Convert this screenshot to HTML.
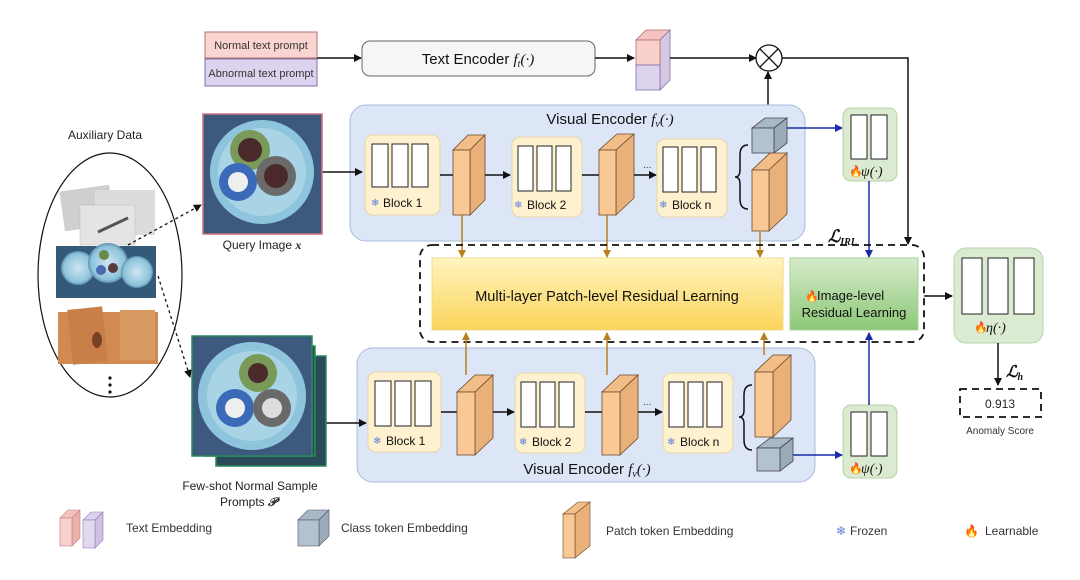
<!DOCTYPE html>
<html><head><meta charset="utf-8"><style>
html,body{margin:0;padding:0;background:#fff;}
svg{display:block;font-family:"Liberation Sans",sans-serif;}
.m{font-family:"Liberation Serif",serif;font-style:italic;}
</style></head><body>
<svg width="1080" height="580" viewBox="0 0 1080 580" xmlns="http://www.w3.org/2000/svg">
<defs>
<marker id="ab" markerWidth="8" markerHeight="8" refX="7" refY="4" orient="auto" markerUnits="userSpaceOnUse"><path d="M0,0 L8,4 L0,8 z" fill="#111"/></marker>
<marker id="abl" markerWidth="8" markerHeight="8" refX="7" refY="4" orient="auto" markerUnits="userSpaceOnUse"><path d="M0,0 L8,4 L0,8 z" fill="#1a2aa8"/></marker>
<marker id="ao" markerWidth="8" markerHeight="8" refX="7" refY="4" orient="auto" markerUnits="userSpaceOnUse"><path d="M0,0 L8,4 L0,8 z" fill="#b8801e"/></marker>
<linearGradient id="gy" x1="0" y1="0" x2="0" y2="1"><stop offset="0" stop-color="#fff4c0"/><stop offset="1" stop-color="#fbd45a"/></linearGradient>
<linearGradient id="gg" x1="0" y1="0" x2="0" y2="1"><stop offset="0" stop-color="#d6ebcb"/><stop offset="1" stop-color="#8cc877"/></linearGradient>
<radialGradient id="cab" cx="0.5" cy="0.5" r="0.6"><stop offset="0" stop-color="#cfe6f0"/><stop offset="0.7" stop-color="#8cc3dc"/><stop offset="1" stop-color="#2b4a6a"/></radialGradient>
</defs>

<!-- text prompts -->
<rect x="205" y="32" width="112" height="26" fill="#f9d4d0" stroke="#b07070"/>
<text x="261" y="49" font-size="11" text-anchor="middle" fill="#333">Normal text prompt</text>
<rect x="205" y="59" width="112" height="27" fill="#ddd3ee" stroke="#8070a8"/>
<text x="261" y="77" font-size="11" text-anchor="middle" fill="#333">Abnormal text prompt</text>
<line x1="317" y1="58" x2="361" y2="58" stroke="#111" stroke-width="1.5" marker-end="url(#ab)"/>
<rect x="362" y="41" width="233" height="35" rx="8" fill="#f6f6f6" stroke="#666"/>
<text x="478" y="64" font-size="15" text-anchor="middle" fill="#111">Text Encoder <tspan class="m">f<tspan font-size="10" dy="3">t</tspan><tspan dy="-3">(·)</tspan></tspan></text>
<line x1="595" y1="58" x2="634" y2="58" stroke="#111" stroke-width="1.5" marker-end="url(#ab)"/>
<!-- text embedding cube -->
<polygon points="636,40 646,30 670,30 660,40" fill="#f4c3c0" stroke="#b07070" stroke-width="0.8"/>
<polygon points="660,40 670,30 670,80 660,90" fill="#d8c8e4" stroke="#8070a8" stroke-width="0.8"/>
<rect x="636" y="40" width="24" height="25" fill="#f9d0cc" stroke="#b07070" stroke-width="0.8"/>
<rect x="636" y="65" width="24" height="25" fill="#ddd3ee" stroke="#8070a8" stroke-width="0.8"/>
<line x1="670" y1="58" x2="756" y2="58" stroke="#111" stroke-width="1.5" marker-end="url(#ab)"/>
<circle cx="769" cy="58" r="13" fill="#fff" stroke="#111" stroke-width="1.3"/>
<line x1="760" y1="49" x2="778" y2="67" stroke="#111" stroke-width="1.3"/><line x1="778" y1="49" x2="760" y2="67" stroke="#111" stroke-width="1.3"/>
<polyline points="782,58 908,58 908,244" fill="none" stroke="#111" stroke-width="1.5" marker-end="url(#ab)"/>
<line x1="768" y1="117" x2="768" y2="72" stroke="#111" stroke-width="1.5" marker-end="url(#ab)"/>

<!-- top visual encoder -->
<rect x="350" y="105" width="455" height="136" rx="16" fill="#dce6f7" stroke="#a8bbd8"/>
<text x="610" y="124" font-size="15" text-anchor="middle" fill="#111">Visual Encoder <tspan class="m">f<tspan font-size="10" dy="3">v</tspan><tspan dy="-3">(·)</tspan></tspan></text>
<line x1="322" y1="172" x2="362" y2="172" stroke="#111" stroke-width="1.5" marker-end="url(#ab)"/>
<g id="blk1">
<rect x="365" y="135" width="75" height="80" rx="8" fill="#fdf1cf" stroke="#e6d6a8"/>
<rect x="372" y="144" width="16" height="43" fill="#fff" stroke="#222"/><rect x="392" y="144" width="16" height="43" fill="#fff" stroke="#222"/><rect x="412" y="144" width="16" height="43" fill="#fff" stroke="#222"/>
<text x="371" y="206" font-size="10" fill="#5b7fd6">❄</text><text x="383" y="207" font-size="12" fill="#111">Block 1</text>
</g>
<line x1="440" y1="175" x2="453" y2="175" stroke="#111" stroke-width="1.5"/>
<polygon points="453,150 470,150 485,135 468,135" fill="#f3bd87" stroke="#6a4a2a" stroke-width="0.8"/>
<polygon points="470,150 485,135 485,200 470,215" fill="#eab07a" stroke="#6a4a2a" stroke-width="0.8"/>
<rect x="453" y="150" width="17" height="65" fill="#f9c894" stroke="#6a4a2a" stroke-width="0.8"/>
<line x1="485" y1="175" x2="510" y2="175" stroke="#111" stroke-width="1.5" marker-end="url(#ab)"/>
<rect x="512" y="137" width="70" height="80" rx="8" fill="#fdf1cf" stroke="#e6d6a8"/>
<rect x="518" y="146" width="15" height="45" fill="#fff" stroke="#222"/><rect x="537" y="146" width="15" height="45" fill="#fff" stroke="#222"/><rect x="556" y="146" width="15" height="45" fill="#fff" stroke="#222"/>
<text x="514" y="208" font-size="10" fill="#5b7fd6">❄</text><text x="527" y="209" font-size="12" fill="#111">Block 2</text>
<line x1="582" y1="175" x2="599" y2="175" stroke="#111" stroke-width="1.5"/>
<polygon points="599,150 616,150 634,134 617,134" fill="#f3bd87" stroke="#6a4a2a" stroke-width="0.8"/>
<polygon points="616,150 634,134 634,198 616,215" fill="#eab07a" stroke="#6a4a2a" stroke-width="0.8"/>
<rect x="599" y="150" width="17" height="65" fill="#f9c894" stroke="#6a4a2a" stroke-width="0.8"/>
<text x="643" y="168" font-size="10" fill="#333">...</text>
<line x1="634" y1="175" x2="656" y2="175" stroke="#111" stroke-width="1.5" marker-end="url(#ab)"/>
<rect x="657" y="139" width="70" height="78" rx="8" fill="#fdf1cf" stroke="#e6d6a8"/>
<rect x="663" y="147" width="15" height="45" fill="#fff" stroke="#222"/><rect x="682" y="147" width="15" height="45" fill="#fff" stroke="#222"/><rect x="701" y="147" width="15" height="45" fill="#fff" stroke="#222"/>
<text x="659" y="208" font-size="10" fill="#5b7fd6">❄</text><text x="672" y="209" font-size="12" fill="#111">Block n</text>
<path d="M748,145 Q740,145 740,155 L740,170 Q740,177 735,177 Q740,177 740,184 L740,199 Q740,209 748,209" fill="none" stroke="#111" stroke-width="1.5"/>
<!-- gray cube top -->
<polygon points="752,128 774,128 787,118 765,118" fill="#a8b8c6" stroke="#445" stroke-width="0.8"/>
<polygon points="774,128 787,118 787,143 774,153" fill="#9aabba" stroke="#445" stroke-width="0.8"/>
<rect x="752" y="128" width="22" height="25" fill="#b2c2cf" stroke="#445" stroke-width="0.8"/>
<line x1="787" y1="128" x2="842" y2="128" stroke="#1a2aa8" stroke-width="1.5" marker-end="url(#abl)"/>
<polygon points="752,170 769,170 787,153 770,153" fill="#f3bd87" stroke="#6a4a2a" stroke-width="0.8"/>
<polygon points="769,170 787,153 787,214 769,231" fill="#eab07a" stroke="#6a4a2a" stroke-width="0.8"/>
<rect x="752" y="170" width="17" height="61" fill="#f9c894" stroke="#6a4a2a" stroke-width="0.8"/>
<line x1="462" y1="215" x2="462" y2="257" stroke="#b8801e" stroke-width="1.5" marker-end="url(#ao)"/>
<line x1="607" y1="215" x2="607" y2="257" stroke="#b8801e" stroke-width="1.5" marker-end="url(#ao)"/>
<line x1="760" y1="231" x2="760" y2="257" stroke="#b8801e" stroke-width="1.5" marker-end="url(#ao)"/>

<!-- psi top -->
<rect x="843" y="108" width="54" height="73" rx="8" fill="#dbebd2" stroke="#b5d2a8"/>
<rect x="851" y="115" width="16" height="44" fill="#fff" stroke="#222"/><rect x="871" y="115" width="16" height="44" fill="#fff" stroke="#222"/>
<text x="849" y="175" font-size="11" fill="#e02020">🔥</text><text x="861" y="176" font-size="14" class="m" fill="#111">ψ(·)</text>
<line x1="869" y1="181" x2="869" y2="257" stroke="#1a2aa8" stroke-width="1.5" marker-end="url(#abl)"/>
<text x="828" y="242" font-size="17" class="m" fill="#111" font-weight="bold">ℒ<tspan font-size="10" dy="3">IRL</tspan></text>

<!-- dashed region -->
<rect x="420" y="245" width="504" height="97" rx="12" fill="none" stroke="#111" stroke-width="1.8" stroke-dasharray="7,5"/>
<rect x="432" y="258" width="351" height="72" fill="url(#gy)" stroke="#f0d88a"/>
<text x="607" y="301" font-size="14.5" text-anchor="middle" fill="#111">Multi-layer Patch-level Residual Learning</text>
<rect x="790" y="258" width="128" height="72" fill="url(#gg)" stroke="#a8d098"/>
<text x="805" y="300" font-size="11" fill="#e02020">🔥</text>
<text x="817" y="300" font-size="13" fill="#111">Image-level</text>
<text x="854" y="306" font-size="13" text-anchor="middle" fill="#111" dy="11">Residual Learning</text>
<line x1="924" y1="296" x2="952" y2="296" stroke="#111" stroke-width="1.5" marker-end="url(#ab)"/>

<!-- eta -->
<rect x="954" y="248" width="89" height="95" rx="12" fill="#dbebd2" stroke="#b5d2a8"/>
<rect x="962" y="258" width="20" height="56" fill="#fff" stroke="#222"/><rect x="988" y="258" width="20" height="56" fill="#fff" stroke="#222"/><rect x="1014" y="258" width="20" height="56" fill="#fff" stroke="#222"/>
<text x="974" y="331" font-size="11" fill="#e02020">🔥</text><text x="986" y="332" font-size="14" class="m" fill="#111">η(·)</text>
<line x1="998" y1="343" x2="998" y2="385" stroke="#111" stroke-width="1.5" marker-end="url(#ab)"/>
<text x="1006" y="377" font-size="16" class="m" font-weight="bold" fill="#111">ℒ<tspan font-size="10" dy="3">h</tspan></text>
<rect x="960" y="389" width="81" height="28" fill="none" stroke="#111" stroke-width="1.8" stroke-dasharray="7,5"/>
<text x="1000" y="408" font-size="12" text-anchor="middle" fill="#222">0.913</text>
<text x="1000" y="434" font-size="10" text-anchor="middle" fill="#333">Anomaly Score</text>

<!-- bottom visual encoder -->
<rect x="357" y="348" width="458" height="134" rx="16" fill="#dce6f7" stroke="#a8bbd8"/>
<text x="587" y="474" font-size="15" text-anchor="middle" fill="#111">Visual Encoder <tspan class="m">f<tspan font-size="10" dy="3">v</tspan><tspan dy="-3">(·)</tspan></tspan></text>
<line x1="312" y1="423" x2="366" y2="423" stroke="#111" stroke-width="1.5" marker-end="url(#ab)"/>
<rect x="368" y="372" width="73" height="80" rx="8" fill="#fdf1cf" stroke="#e6d6a8"/>
<rect x="375" y="381" width="16" height="45" fill="#fff" stroke="#222"/><rect x="395" y="381" width="16" height="45" fill="#fff" stroke="#222"/><rect x="415" y="381" width="16" height="45" fill="#fff" stroke="#222"/>
<text x="373" y="444" font-size="10" fill="#5b7fd6">❄</text><text x="386" y="445" font-size="12" fill="#111">Block 1</text>
<line x1="441" y1="412" x2="457" y2="412" stroke="#111" stroke-width="1.5"/>
<polygon points="457,392 475,392 493,375 475,375" fill="#f3bd87" stroke="#6a4a2a" stroke-width="0.8"/>
<polygon points="475,392 493,375 493,438 475,455" fill="#eab07a" stroke="#6a4a2a" stroke-width="0.8"/>
<rect x="457" y="392" width="18" height="63" fill="#f9c894" stroke="#6a4a2a" stroke-width="0.8"/>
<line x1="493" y1="412" x2="514" y2="412" stroke="#111" stroke-width="1.5" marker-end="url(#ab)"/>
<rect x="515" y="373" width="70" height="80" rx="8" fill="#fdf1cf" stroke="#e6d6a8"/>
<rect x="521" y="382" width="15" height="45" fill="#fff" stroke="#222"/><rect x="540" y="382" width="15" height="45" fill="#fff" stroke="#222"/><rect x="559" y="382" width="15" height="45" fill="#fff" stroke="#222"/>
<text x="519" y="445" font-size="10" fill="#5b7fd6">❄</text><text x="532" y="446" font-size="12" fill="#111">Block 2</text>
<line x1="585" y1="412" x2="602" y2="412" stroke="#111" stroke-width="1.5"/>
<polygon points="602,392 620,392 638,375 620,375" fill="#f3bd87" stroke="#6a4a2a" stroke-width="0.8"/>
<polygon points="620,392 638,375 638,438 620,455" fill="#eab07a" stroke="#6a4a2a" stroke-width="0.8"/>
<rect x="602" y="392" width="18" height="63" fill="#f9c894" stroke="#6a4a2a" stroke-width="0.8"/>
<text x="643" y="405" font-size="10" fill="#333">...</text>
<line x1="638" y1="412" x2="662" y2="412" stroke="#111" stroke-width="1.5" marker-end="url(#ab)"/>
<rect x="663" y="373" width="70" height="80" rx="8" fill="#fdf1cf" stroke="#e6d6a8"/>
<rect x="669" y="382" width="15" height="45" fill="#fff" stroke="#222"/><rect x="688" y="382" width="15" height="45" fill="#fff" stroke="#222"/><rect x="707" y="382" width="15" height="45" fill="#fff" stroke="#222"/>
<text x="667" y="445" font-size="10" fill="#5b7fd6">❄</text><text x="680" y="446" font-size="12" fill="#111">Block n</text>
<path d="M752,385 Q744,385 744,395 L744,410 Q744,417 739,417 Q744,417 744,424 L744,440 Q744,450 752,450" fill="none" stroke="#111" stroke-width="1.5"/>
<polygon points="755,372 773,372 791,355 773,355" fill="#f3bd87" stroke="#6a4a2a" stroke-width="0.8"/>
<polygon points="773,372 791,355 791,420 773,437" fill="#eab07a" stroke="#6a4a2a" stroke-width="0.8"/>
<rect x="755" y="372" width="18" height="65" fill="#f9c894" stroke="#6a4a2a" stroke-width="0.8"/>
<polygon points="757,448 780,448 793,438 770,438" fill="#a8b8c6" stroke="#445" stroke-width="0.8"/>
<polygon points="780,448 793,438 793,461 780,471" fill="#9aabba" stroke="#445" stroke-width="0.8"/>
<rect x="757" y="448" width="23" height="23" fill="#b2c2cf" stroke="#445" stroke-width="0.8"/>
<line x1="793" y1="455" x2="842" y2="455" stroke="#1a2aa8" stroke-width="1.5" marker-end="url(#abl)"/>
<line x1="466" y1="375" x2="466" y2="333" stroke="#b8801e" stroke-width="1.5" marker-end="url(#ao)"/>
<line x1="607" y1="375" x2="607" y2="333" stroke="#b8801e" stroke-width="1.5" marker-end="url(#ao)"/>
<line x1="764" y1="355" x2="764" y2="333" stroke="#b8801e" stroke-width="1.5" marker-end="url(#ao)"/>
<!-- psi bottom -->
<rect x="843" y="405" width="54" height="73" rx="8" fill="#dbebd2" stroke="#b5d2a8"/>
<rect x="851" y="412" width="16" height="44" fill="#fff" stroke="#222"/><rect x="871" y="412" width="16" height="44" fill="#fff" stroke="#222"/>
<text x="849" y="472" font-size="11" fill="#e02020">🔥</text><text x="861" y="473" font-size="14" class="m" fill="#111">ψ(·)</text>
<line x1="869" y1="405" x2="869" y2="333" stroke="#1a2aa8" stroke-width="1.5" marker-end="url(#abl)"/>

<!-- left auxiliary -->
<text x="105" y="139" font-size="12" text-anchor="middle" fill="#222">Auxiliary Data</text>
<ellipse cx="110" cy="275" rx="72" ry="122" fill="#fff" stroke="#111" stroke-width="1.2"/>
<g>
<rect x="62" y="188" width="50" height="40" fill="#cfcfcf" transform="rotate(-8 87 208)"/>
<rect x="95" y="190" width="60" height="45" fill="#dcdcdc"/>
<rect x="80" y="205" width="55" height="40" fill="#e4e4e4" stroke="#bbb" stroke-width="0.5"/>
<line x1="98" y1="232" x2="128" y2="218" stroke="#555" stroke-width="3"/>
</g>
<g>
<rect x="56" y="246" width="100" height="52" fill="#345a7a"/>
<circle cx="78" cy="268" r="17" fill="url(#cab)"/><circle cx="108" cy="263" r="20" fill="url(#cab)"/><circle cx="137" cy="272" r="16" fill="url(#cab)"/>
<circle cx="104" cy="255" r="5" fill="#6a8a4a"/><circle cx="113" cy="268" r="5" fill="#5a3a3a"/><circle cx="101" cy="270" r="5" fill="#4a6ab0"/>
</g>
<g>
<rect x="58" y="312" width="100" height="52" fill="#d08a52"/>
<rect x="70" y="308" width="35" height="55" fill="#c88048" transform="rotate(-6 88 335)"/>
<rect x="120" y="310" width="35" height="50" fill="#d99a62"/>
<ellipse cx="97" cy="340" rx="5" ry="8" fill="#7a4222"/>
</g>
<circle cx="110" cy="378" r="1.6" fill="#111"/><circle cx="110" cy="385" r="1.6" fill="#111"/><circle cx="110" cy="392" r="1.6" fill="#111"/>
<line x1="128" y1="245" x2="201" y2="205" stroke="#111" stroke-width="1.3" stroke-dasharray="3,3" marker-end="url(#ab)"/>
<line x1="158" y1="276" x2="190" y2="377" stroke="#111" stroke-width="1.3" stroke-dasharray="3,3" marker-end="url(#ab)"/>

<!-- query image -->
<rect x="203" y="114" width="119" height="120" fill="#3d5a7e" stroke="#d07080" stroke-width="1.5"/>
<circle cx="262" cy="172" r="52" fill="#8fc5dc"/>
<circle cx="262" cy="172" r="44" fill="#a8d4e6"/>
<circle cx="250" cy="150" r="20" fill="#7a9a5a"/><circle cx="250" cy="150" r="12" fill="#4a2a2a"/>
<circle cx="238" cy="182" r="19" fill="#3a6ab8"/><circle cx="238" cy="182" r="10" fill="#eee"/>
<circle cx="276" cy="176" r="20" fill="#6a6a6a"/><circle cx="276" cy="176" r="12" fill="#4a2a2a"/>
<text x="262" y="249" font-size="12" text-anchor="middle" fill="#222">Query Image <tspan class="m" font-weight="bold">x</tspan></text>

<!-- few-shot stack -->
<rect x="216" y="356" width="110" height="110" fill="#2a4a5a" stroke="#2a8a5a" stroke-width="1.5"/>
<rect x="205" y="346" width="110" height="110" fill="#2a4a5a" stroke="#2a8a5a" stroke-width="1.5"/>
<rect x="192" y="336" width="120" height="120" fill="#3d5a7e" stroke="#2a8a5a" stroke-width="1.5"/>
<circle cx="252" cy="396" r="54" fill="#8fc5dc"/>
<circle cx="252" cy="396" r="45" fill="#a8d4e6"/>
<circle cx="258" cy="373" r="19" fill="#7a9a5a"/><circle cx="258" cy="373" r="10" fill="#4a2a2a"/>
<circle cx="235" cy="408" r="19" fill="#3a6ab8"/><circle cx="235" cy="408" r="10" fill="#eee"/>
<circle cx="272" cy="408" r="19" fill="#6a6a6a"/><circle cx="272" cy="408" r="10" fill="#ddd"/>
<text x="250" y="490" font-size="12" text-anchor="middle" fill="#222">Few-shot Normal Sample</text>
<text x="250" y="506" font-size="12" text-anchor="middle" fill="#222">Prompts <tspan class="m" font-weight="bold">𝒫′</tspan></text>

<!-- legend -->
<polygon points="60,518 68,510 80,510 72,518" fill="#f4c3c0" stroke="#c08080" stroke-width="0.6"/>
<polygon points="72,518 80,510 80,538 72,546" fill="#eab0ac" stroke="#c08080" stroke-width="0.6"/>
<rect x="60" y="518" width="12" height="28" fill="#f9d0cc" stroke="#c08080" stroke-width="0.6"/>
<polygon points="83,520 91,512 103,512 95,520" fill="#ddd0ee" stroke="#9080b8" stroke-width="0.6"/>
<polygon points="95,520 103,512 103,540 95,548" fill="#cfc0e4" stroke="#9080b8" stroke-width="0.6"/>
<rect x="83" y="520" width="12" height="28" fill="#e2d8f0" stroke="#9080b8" stroke-width="0.6"/>
<text x="126" y="532" font-size="12" fill="#333">Text Embedding</text>
<polygon points="298,520 308,510 329,510 319,520" fill="#a8b8c6" stroke="#556" stroke-width="0.6"/>
<polygon points="319,520 329,510 329,536 319,546" fill="#9aabba" stroke="#556" stroke-width="0.6"/>
<rect x="298" y="520" width="21" height="26" fill="#b2c2cf" stroke="#556" stroke-width="0.6"/>
<text x="341" y="532" font-size="12" fill="#333">Class token Embedding</text>
<polygon points="563,514 575,514 590,502 578,502" fill="#f3bd87" stroke="#6a4a2a" stroke-width="0.6"/>
<polygon points="575,514 590,502 590,546 575,558" fill="#eab07a" stroke="#6a4a2a" stroke-width="0.6"/>
<rect x="563" y="514" width="12" height="44" fill="#f9c894" stroke="#6a4a2a" stroke-width="0.6"/>
<text x="606" y="535" font-size="12" fill="#333">Patch token Embedding</text>
<text x="836" y="535" font-size="12" fill="#5b7fd6">❄</text>
<text x="850" y="535" font-size="12" fill="#333">Frozen</text>
<text x="964" y="535" font-size="12" fill="#e02020">🔥</text>
<text x="985" y="535" font-size="12" fill="#333">Learnable</text>
</svg>
</body></html>
